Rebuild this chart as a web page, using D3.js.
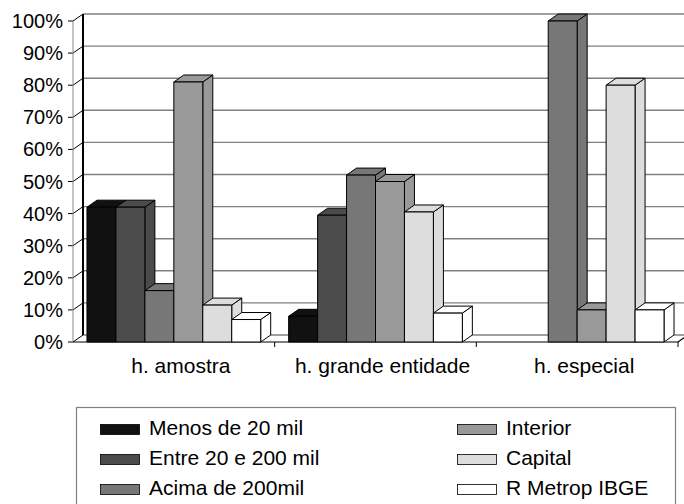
<!DOCTYPE html>
<html><head><meta charset="utf-8">
<script src="https://cdn.jsdelivr.net/npm/d3@7"></script>
<style>
html,body{margin:0;padding:0;background:#fff;}
svg{display:block;font-family:"Liberation Sans",Arial,sans-serif;}
</style></head>
<body>
<svg id="c" width="684" height="504"></svg>
<script>
// ---- data ----
const categories = ["h. amostra", "h. grande entidade", "h. especial"];
const seriesNames = ["Menos de 20 mil", "Entre 20 e 200 mil", "Acima de 200mil", "Interior", "Capital", "R Metrop IBGE"];
const seriesColors = ["#111111", "#4b4b4b", "#777777", "#999999", "#dddddd", "#ffffff"];
const menos20 = [42, 8, 0];
const entre20e200 = [42, 39.5, 0];
const acima200 = [16, 52, 100];
const interior = [81, 50, 10];
const capital = [11.5, 40.5, 80];
const rMetrop = [7, 9, 10];
const yTicks = [0, 10, 20, 30, 40, 50, 60, 70, 80, 90, 100];
const seriesValues = [menos20, entre20e200, acima200, interior, capital, rMetrop];

// ---- layout ----
const svg = d3.select("#c");
const DX = 10, DY = -7;           // depth offset
const x0 = 73, x1 = 678, yBase = 342, yTop = 21;
const x = d3.scaleBand().domain(categories).range([x0, x1]).paddingInner(0).paddingOuter(0);
const gap = x.bandwidth() * 0.0693;
const xs = d3.scaleBand().domain(seriesNames).range([gap, x.bandwidth() - gap]).padding(0);
const y = d3.scaleLinear().domain([0, 100]).range([yBase, yTop]);

const grid = svg.append("g");
// back wall gridlines
yTicks.forEach(t => {
  grid.append("line").attr("x1", x0 + DX).attr("x2", 690).attr("y1", y(t) + DY).attr("y2", y(t) + DY)
    .attr("stroke", "#808080").attr("stroke-width", 1.4);
  // side wall diagonal
  grid.append("line").attr("x1", x0).attr("x2", x0 + DX).attr("y1", y(t)).attr("y2", y(t) + DY)
    .attr("stroke", "#000").attr("stroke-width", 1);
  // tick
  grid.append("line").attr("x1", x0 - 5).attr("x2", x0).attr("y1", y(t)).attr("y2", y(t))
    .attr("stroke", "#000").attr("stroke-width", 1);
  svg.append("text").attr("x", 63).attr("y", y(t)).attr("dy", "0.35em")
    .attr("text-anchor", "end").attr("font-size", 20).attr("fill", "#000").text(t + "%");
});
// side wall front edge (thin)
grid.append("line").attr("x1", x0).attr("x2", x0).attr("y1", y(100)).attr("y2", y(0))
  .attr("stroke", "#888").attr("stroke-width", 1);
// back wall left edge
grid.append("line").attr("x1", x0 + DX).attr("x2", x0 + DX).attr("y1", y(100) + DY).attr("y2", y(0) + DY)
  .attr("stroke", "#000").attr("stroke-width", 2);
// floor
grid.append("path")
  .attr("d", `M${x0},${yBase}L${x1},${yBase}L${x1 + DX},${yBase + DY}`)
  .attr("fill", "none").attr("stroke", "#000").attr("stroke-width", 1.2);
// category ticks
categories.forEach(c => {
  const xe = x(c) + x.bandwidth();
  grid.append("line").attr("x1", xe).attr("x2", xe).attr("y1", yBase).attr("y2", yBase + 5)
    .attr("stroke", "#000").attr("stroke-width", 1);
});

// bars
const bars = svg.append("g");
categories.forEach((c, ci) => {
  seriesNames.forEach((s, si) => {
    const v = seriesValues[si][ci];
    if (!(v > 0)) return;
    const bx = x(c) + xs(s), bw = xs.bandwidth();
    const ty = y(v), by = y(0);
    const col = seriesColors[si];
    const g = bars.append("g").attr("stroke", "#000").attr("stroke-width", 1).attr("stroke-linejoin", "round").attr("fill", col);
    // side
    g.append("path").attr("d", `M${bx + bw},${by}L${bx + bw},${ty}L${bx + bw + DX},${ty + DY}L${bx + bw + DX},${by + DY}Z`);
    // top
    g.append("path").attr("d", `M${bx},${ty}L${bx + DX},${ty + DY}L${bx + bw + DX},${ty + DY}L${bx + bw},${ty}Z`);
    // front
    g.append("rect").attr("x", bx).attr("y", ty).attr("width", bw).attr("height", by - ty);
  });
});

// category labels
categories.forEach(c => {
  svg.append("text").attr("x", x(c) + x.bandwidth() / 2 + 7).attr("y", 373)
    .attr("text-anchor", "middle").attr("font-size", 21).attr("fill", "#000").text(c);
});

// legend
const lg = svg.append("g");
lg.append("rect").attr("x", 76.5).attr("y", 407.5).attr("width", 599).attr("height", 110)
  .attr("fill", "#fff").attr("stroke", "#808080").attr("stroke-width", 1.2);
seriesNames.forEach((s, i) => {
  const col = Math.floor(i / 3), row = i % 3;
  const sx = col === 0 ? 100 : 457;
  const rowY = 435 + row * 30;
  lg.append("rect").attr("x", sx + 0.5).attr("y", rowY - 10.5).attr("width", 39).attr("height", 10)
    .attr("fill", seriesColors[i]).attr("stroke", "#000").attr("stroke-width", 0.8);
  lg.append("text").attr("x", sx + 49).attr("y", rowY).attr("font-size", 21).attr("fill", "#000").text(s);
});
</script>
</body></html>
